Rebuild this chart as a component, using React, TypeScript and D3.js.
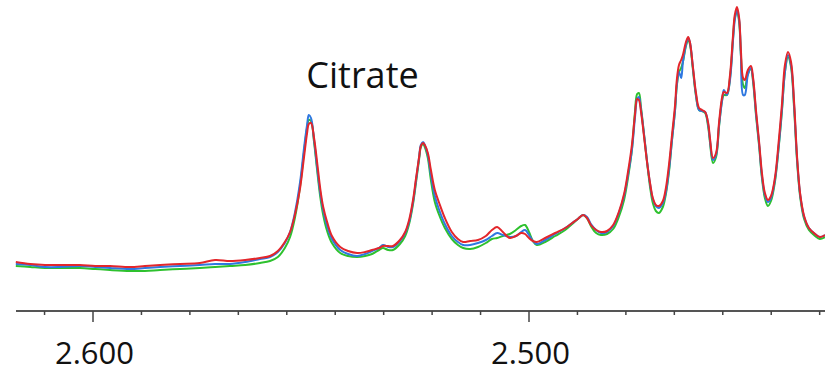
import React from "react";
import * as d3 from "d3";

// Chemical shift (ppm) sample positions
const ppm: number[] = [
  2.6177, 2.6144, 2.611, 2.6076, 2.603, 2.5995, 2.5961, 2.5915, 2.5881, 2.5846,
  2.58, 2.5755, 2.572, 2.5686, 2.5651, 2.5617, 2.5594, 2.5576, 2.556, 2.5548,
  2.5537, 2.5525, 2.5516, 2.5509, 2.5505, 2.55, 2.5493, 2.5486, 2.5479, 2.5472,
  2.5463, 2.5452, 2.5433, 2.5415, 2.5394, 2.5376, 2.536, 2.5344, 2.5335, 2.5323,
  2.5312, 2.5296, 2.5284, 2.5275, 2.5266, 2.5259, 2.5252, 2.5248, 2.5243, 2.5239,
  2.5232, 2.5225, 2.5216, 2.5206, 2.5193, 2.5177, 2.5163, 2.5151, 2.5135, 2.5117,
  2.5099, 2.5085, 2.5073, 2.506, 2.5044, 2.503, 2.5018, 2.5009, 2.5, 2.4991,
  2.4982, 2.4963, 2.494, 2.4917, 2.4901, 2.4888, 2.4876, 2.4867, 2.4858, 2.4846,
  2.4835, 2.4821, 2.4807, 2.4794, 2.4782, 2.4773, 2.4764, 2.4757, 2.4752, 2.4748,
  2.4743, 2.4736, 2.4729, 2.4722, 2.4716, 2.4709, 2.4702, 2.4693, 2.4686, 2.4679,
  2.4672, 2.4665, 2.4661, 2.4656, 2.4651, 2.4647, 2.464, 2.4635, 2.4631, 2.4624,
  2.4617, 2.461, 2.4603, 2.4596, 2.4589, 2.4585, 2.4578, 2.4571, 2.4564, 2.4557,
  2.4553, 2.4546, 2.4539, 2.4532, 2.4528, 2.4523, 2.4518, 2.4514, 2.4509, 2.4505,
  2.4498, 2.4491, 2.4486, 2.4479, 2.4472, 2.4466, 2.4459, 2.4452, 2.4445, 2.4436,
  2.4427, 2.442, 2.4413, 2.4406, 2.4399, 2.4392, 2.4385, 2.4378, 2.4369, 2.4358,
  2.4344, 2.4333, 2.4321,
];

const blueSeries: number[] = [
  16, 15, 13, 13, 14, 13, 12, 11, 12, 13,
  14, 15, 16, 16, 18, 21, 23, 28, 37, 48,
  67, 98, 132, 155, 165, 162, 140, 113, 88, 70,
  54, 41, 30, 26, 24, 26, 29, 32, 35, 33,
  33, 39, 47, 58, 78, 100, 123, 135, 138, 135,
  125, 105, 84, 70, 56, 44, 38, 35, 35, 37,
  40, 44, 47, 45, 43, 44, 48, 50, 45, 39,
  36, 40, 46, 52, 57, 61, 65, 63, 56, 50,
  47, 48, 54, 67, 84, 105, 130, 162, 181, 183,
  170, 145, 118, 95, 81, 74, 72, 77, 88, 110,
  140, 170, 195, 208, 202, 218, 235, 242, 238, 212,
  185, 170, 169, 168, 155, 140, 120, 125, 155, 180,
  190, 185, 200, 240, 260, 270, 260, 225, 185, 185,
  205, 212, 200, 165, 135, 105, 85, 78, 82, 100,
  135, 170, 208, 225, 215, 175, 120, 85, 63, 52,
  46, 43, 45,
];

const redSeries: number[] = [
  18, 16, 15, 15, 15, 14, 14, 13, 14, 15,
  16, 17, 20, 19, 20, 22, 24, 29, 38, 48,
  65, 92, 123, 147, 156, 157, 142, 118, 92, 73,
  58, 44, 33, 29, 27, 28, 30, 32, 34, 34,
  34, 40, 48, 60, 80, 102, 123, 134, 137, 135,
  127, 110, 90, 77, 62, 48, 41, 38, 39, 40,
  44, 50, 53, 48, 42, 44, 47, 46, 42, 39,
  38, 42, 47, 52, 57, 61, 65, 62, 55, 50,
  48, 49, 55, 68, 86, 108, 135, 165, 181, 180,
  168, 143, 117, 96, 82, 75, 74, 79, 92, 115,
  145, 175, 200, 215, 220, 225, 238, 243, 238, 213,
  187, 172, 170, 168, 157, 142, 122, 127, 158, 183,
  188, 187, 205, 245, 265, 273, 262, 230, 202, 200,
  210, 214, 202, 168, 137, 108, 87, 80, 84, 102,
  140, 175, 215, 228, 218, 178, 122, 86, 64, 52,
  46, 43, 45,
];

const greenSeries: number[] = [
  14, 13, 12, 12, 12, 11, 10, 9, 9, 10,
  11, 12, 13, 14, 15, 17, 19, 23, 32, 43,
  62, 94, 128, 152, 160, 159, 138, 110, 84, 65,
  49, 37, 27, 24, 23, 24, 26, 30, 32, 30,
  30, 36, 44, 56, 76, 98, 121, 133, 136, 133,
  122, 100, 78, 65, 52, 41, 35, 32, 31, 33,
  37, 41, 42, 44, 46, 50, 54, 55, 48, 39,
  35, 38, 44, 50, 56, 61, 65, 62, 54, 47,
  45, 46, 51, 63, 80, 102, 130, 168, 186, 187,
  172, 145, 117, 92, 77, 69, 67, 73, 86, 108,
  140, 170, 194, 208, 212, 218, 234, 240, 236, 210,
  184, 170, 169, 167, 153, 138, 117, 123, 154, 180,
  185, 185, 202, 242, 262, 268, 258, 225, 195, 192,
  206, 211, 198, 163, 133, 103, 82, 74, 79, 98,
  134, 168, 208, 223, 213, 172, 118, 83, 61, 50,
  44, 41, 43,
];

const majorTicks: number[] = [2.6, 2.5];
const majorTickLabels: string[] = ["2.600", "2.500"];
const minorStep = 0.1 / 9;
const peakLabel = "Citrate";

const W = 825;
const H = 373;

export default function App() {
  const x = d3.scaleLinear().domain([2.6, 2.5]).range([93, 529]);
  const y = d3.scaleLinear().domain([0, 280]).range([280, 0]);
  const axisY = 311;

  const line = d3
    .line<number>()
    .x((_, i) => x(ppm[i]))
    .y((v) => y(v))
    .curve(d3.curveCatmullRom.alpha(0.5));

  const series = [
    { name: "green", values: greenSeries, color: "#2ec12e" },
    { name: "blue", values: blueSeries, color: "#2f78e0" },
    { name: "red", values: redSeries, color: "#e3262b" },
  ];

  const minorTicks = d3
    .range(-1, 16)
    .map((k) => 2.6 - k * minorStep)
    .filter((v) => x(v) >= 16 && x(v) <= 825)
    .filter((v) => !majorTicks.some((m) => Math.abs(m - v) < 1e-6));

  const font = "'Open Sans', 'Liberation Sans', sans-serif";

  return (
    <div style={{ position: "fixed", left: 0, top: 0 }}>
      <svg width={W} height={H} style={{ display: "block", background: "#fff" }}>
        <rect x={0} y={0} width={W} height={H} fill="#fff" />
        {series.map((s) => (
          <path
            key={s.name}
            d={line(s.values) || ""}
            fill="none"
            stroke={s.color}
            strokeWidth={2}
            strokeLinejoin="round"
          />
        ))}
        <line x1={16} x2={825} y1={axisY} y2={axisY} stroke="#555" strokeWidth={2} />
        {minorTicks.map((v, i) => (
          <line
            key={"m" + i}
            x1={x(v)}
            x2={x(v)}
            y1={axisY}
            y2={axisY + 4}
            stroke="#444"
            strokeWidth={1.5}
          />
        ))}
        {majorTicks.map((v, i) => (
          <g key={"M" + i}>
            <line x1={x(v)} x2={x(v)} y1={axisY} y2={axisY + 11} stroke="#444" strokeWidth={1.5} />
            <text
              x={x(v) + 1.5}
              y={364}
              textAnchor="middle"
              fontFamily={font}
              fontSize={31}
              fill="#111"
            >
              {majorTickLabels[i]}
            </text>
          </g>
        ))}
        <text
          x={362.5}
          y={88}
          textAnchor="middle"
          fontFamily={font}
          fontSize={36}
          fill="#111"
        >
          {peakLabel}
        </text>
      </svg>
    </div>
  );
}
